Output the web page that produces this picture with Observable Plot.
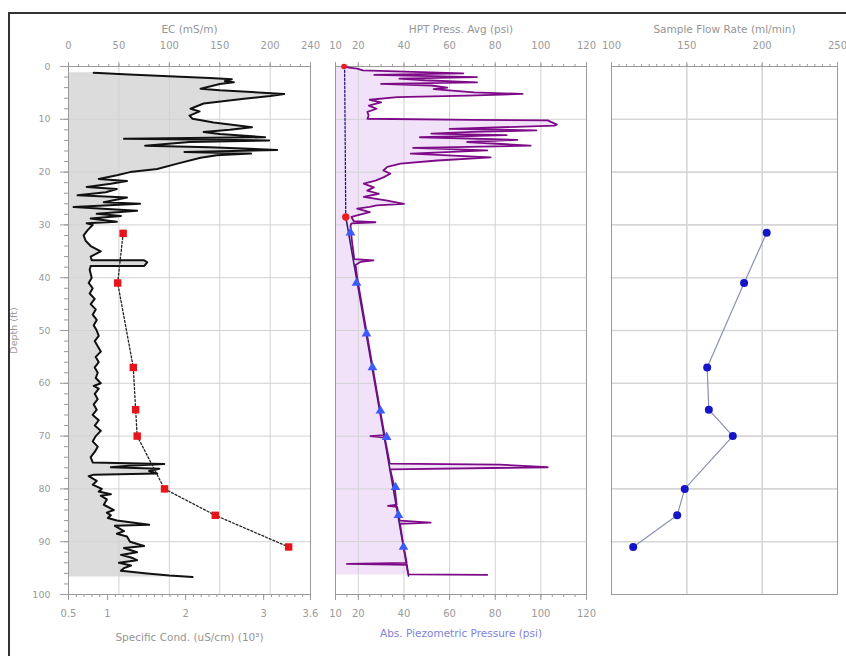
<!DOCTYPE html>
<html><head><meta charset="utf-8">
<script src="https://cdn.jsdelivr.net/npm/d3@7"></script>
<script src="https://cdn.jsdelivr.net/npm/@observablehq/plot@0.6"></script>
<style>
html,body{margin:0;padding:0;background:#fff;overflow:hidden;}
#wrap{position:relative;width:846px;height:656px;overflow:hidden;background:#fff;}
#wrap svg{position:absolute;top:0;}
#frame{position:absolute;left:8px;top:12px;width:900px;height:700px;border:2px solid #333;pointer-events:none;z-index:5;}
</style></head><body>
<div id="wrap"><div id="frame"></div></div>
<script>
// ---- Data: [depth (ft), value] ----
const ecLog = [[1.2,25],[1.3,35],[1.5,60],[1.9,105],[2.2,140],[2.4,162],[2.8,155],[3.0,164],[3.3,150],[4.2,131],[4.5,150],[5.2,214],[5.6,200],[6.1,174],[7.0,134],[8.0,121],[8.5,130],[9.3,120],[9.9,123],[10.6,144],[11.5,182],[12.0,160],[12.4,134],[12.8,150],[13.4,195],[13.7,55],[14.0,199],[14.3,120],[15.0,76],[15.3,140],[15.8,207],[16.2,115],[16.5,181],[16.8,147],[17.3,131],[18.4,108],[19.4,88],[20.0,61],[20.6,48],[21.3,30],[21.7,58],[22.2,42],[22.8,18],[23.2,48],[23.8,37],[24.4,9],[24.8,58],[25.7,35],[26.0,71],[26.6,5],[27.3,68],[27.9,28],[28.3,52],[28.8,22],[29.4,48],[29.7,18],[30,24],[31,19],[32,15],[33,17],[34,22],[35,32],[36,22],[36.7,23],[36.7,75],[37.1,78],[37.8,75],[37.8,22],[38.5,21],[40,23],[41,20],[42,24],[43,21],[44,26],[45,22],[46,27],[47,24],[48,28],[49,25],[50,28],[51,30],[52,26],[53,29],[54,32],[55,27],[56,30],[57,26],[58,29],[59,27],[60,32],[60.5,25],[61,30],[62,26],[63,29],[64,25],[65,28],[66,24],[67,30],[68,26],[69,32],[70,27],[71,24],[72,29],[73,26],[74,22],[75,24],[75.3,95],[75.6,60],[75.9,42],[76.2,90],[76.6,80],[77.1,88],[77.3,25],[77.6,20],[78.5,28],[79.2,24],[80,33],[80.5,30],[81,42],[81.3,32],[82,38],[83,35],[84,45],[84.5,38],[85,42],[85.5,39],[86,48],[86.8,80],[87,46],[88,55],[88.5,48],[89,58],[90,61],[90.8,75],[91.2,55],[92,68],[92.5,52],[93,62],[93.5,68],[94,50],[94.5,62],[95,55],[95.5,52],[96,78],[96.4,100],[96.7,123]];

const scSamples = [[31.6,1.20],[41,1.13],[57,1.33],[65,1.36],[70,1.38],[80,1.73],[85,2.38],[91,3.32]];

const hptLog = [[0,13.7],[0.2,16],[0.4,19.5],[0.75,22],[1.3,66],[1.6,27],[2.0,72],[2.3,38],[2.6,49],[3.0,72],[3.3,30],[3.6,52],[4.0,59],[4.3,53],[4.9,70.7],[5.2,92],[5.5,68],[5.8,37],[6.3,25],[6.8,30],[7.4,24.6],[8.0,28],[8.6,24],[9.3,24.5],[9.9,24],[10.1,70],[10.2,103],[11.0,107],[11.2,106],[11.8,60],[12.1,98],[12.4,70],[12.7,52],[13.0,85],[13.4,47],[13.9,89.7],[14.3,67.7],[15.0,95.5],[15.4,44],[15.9,76.5],[16.5,43],[17.2,78],[17.8,54.6],[18.4,38.5],[19.0,32.7],[19.7,31],[20.3,34],[21.0,31],[21.6,27.5],[22.2,22.4],[22.9,26.8],[23.5,23.9],[24.1,29],[24.7,22.4],[25.4,32.7],[26.0,40],[26.3,28],[26.6,25],[26.9,19.5],[27.6,25],[28.2,19.5],[28.5,17],[29.3,18],[29.5,27.5],[29.7,17],[30.1,16.6],[31.5,16.8],[33,17.2],[35,17.8],[36.5,18.2],[36.7,26.7],[37.0,21],[37.6,18.8],[40,19.5],[45,21.5],[50,23.5],[55,25.5],[60,27.5],[65,29.5],[69.8,31.5],[70,25.3],[70.3,31.6],[75.2,33.8],[75.4,82],[75.9,103],[76.3,34],[80,36],[83,36.8],[83.2,33],[83.4,37],[86,38.2],[86.4,51.7],[86.6,38.3],[90,39.5],[94,41.2],[94.2,15],[94.4,41.3],[96,41.8],[96.2,42.3],[96.3,76.5]];

const waterLevel = [[0,14],[28.5,14.5]];
const hydroLine = [[28.5,14.5],[96.5,42]];
const piezoPoints = [[31.5,16.6],[41,19.2],[50.6,23.6],[57,26.2],[65.2,29.7],[70.2,32.4],[79.7,36.3],[85,37.6],[91,39.8]];
const redMarkers = [[0,13.7,3],[28.5,14.5,5.5]];

const flowRate = [[31.5,203],[41,188],[57,163.5],[65,164.6],[70,180.5],[80,148.6],[85,143.6],[91,114.4]];

const ecTicks = [0,50,100,150,200,240];
const scTicks = [0.5,1,2,3,3.6];
const psiTicks = [10,20,40,60,80,100,120];
const flowTicks = [100,150,200,250];
const depthTicks = [0,10,20,30,40,50,60,70,80,90,100];

// ---- Layout ----
const H = 656, MT = 66, MB = 62;
const rng = (a,b,s) => d3.range(a, b + s/2, s);
const style = {fontFamily: "'DejaVu Sans', sans-serif", fontSize: "10px", color: "#9a9a9a", background: "transparent", overflow: "visible"};
const gridC = "#d2d2d2";
const titleC = "#959595";
const toEC = sc => (sc - 0.5) / 3.1 * 240;
const fromEC = v => v / 240 * 3.1 + 0.5;
const D = d => d[0];

const p1 = Plot.plot({
  width: 320, height: H, marginLeft: 68, marginRight: 10, marginTop: MT, marginBottom: MB,
  style,
  x: {domain: [0, 240], axis: null},
  y: {domain: [0, 100], reverse: true, axis: null},
  marks: [
    Plot.areaX(ecLog, {x1: 0, x2: d => d[1], y: D, fill: "#dcdcdc"}),
    Plot.gridX({ticks: [50,100,150,200], stroke: gridC, strokeOpacity: 1}),
    Plot.gridY({ticks: rng(10,90,10), stroke: gridC, strokeOpacity: 1}),
    Plot.frame({stroke: "#9a9a9a"}),
    Plot.axisX({anchor: "top", ticks: ecTicks, tickSize: 5, tickPadding: 13, label: null}),
    Plot.axisX({anchor: "top", ticks: rng(0,240,10), tickSize: 3, tickFormat: () => "", label: null}),
    Plot.axisX({anchor: "bottom", ticks: scTicks.map(toEC), tickSize: 6, tickPadding: 9, tickFormat: v => String(+fromEC(v).toFixed(1)), label: null}),
    Plot.axisX({anchor: "bottom", ticks: rng(0.5,3.6,0.1).map(toEC), tickSize: 3, tickFormat: () => "", label: null}),
    Plot.axisY({ticks: depthTicks, tickSize: 8, tickPadding: 10, label: "Depth (ft)", labelAnchor: "center", labelOffset: 58, labelArrow: "none", fontSize: 9.5}),
    Plot.axisY({ticks: rng(0,100,2), tickSize: 4, tickFormat: () => "", label: null}),
    Plot.line(ecLog, {x: d => d[1], y: D, stroke: "#111", strokeWidth: 2}),
    Plot.line(scSamples, {x: d => toEC(d[1]), y: D, stroke: "#222", strokeDasharray: "2,2", strokeWidth: 1.3}),
    Plot.dot(scSamples, {x: d => toEC(d[1]), y: D, symbol: "square", fill: "#e8141c", r: 4.2}),
    Plot.text(["EC (mS/m)"], {frameAnchor: "top", dy: -41, fill: titleC, fontSize: 10.5}),
    Plot.text(["Specific Cond. (uS/cm) (10³)"], {frameAnchor: "bottom", dy: 46, fill: titleC, fontSize: 10.5})
  ]
});

const p2 = Plot.plot({
  width: 280, height: H, marginLeft: 15, marginRight: 14, marginTop: MT, marginBottom: MB,
  style,
  x: {domain: [10, 120], axis: null},
  y: {domain: [0, 100], reverse: true, axis: null},
  marks: [
    Plot.areaX(hptLog, {x1: 10, x2: d => d[1], y: D, fill: "#f1e2fa"}),
    Plot.gridX({ticks: [20,40,60,80,100], stroke: gridC, strokeOpacity: 1}),
    Plot.gridY({ticks: rng(10,90,10), stroke: gridC, strokeOpacity: 1}),
    Plot.frame({stroke: "#9a9a9a"}),
    Plot.axisX({anchor: "top", ticks: psiTicks, tickSize: 5, tickPadding: 13, label: null}),
    Plot.axisX({anchor: "top", ticks: rng(10,120,5), tickSize: 3, tickFormat: () => "", label: null}),
    Plot.axisX({anchor: "bottom", ticks: psiTicks, tickSize: 6, tickPadding: 9, label: null}),
    Plot.axisX({anchor: "bottom", ticks: rng(10,120,5), tickSize: 3, tickFormat: () => "", label: null}),
    Plot.line(waterLevel, {x: d => d[1], y: D, stroke: "#1a1a80", strokeDasharray: "2,2", strokeWidth: 1.3}),
    Plot.line(hydroLine, {x: d => d[1], y: D, stroke: "#3a1d70", strokeWidth: 1.6}),
    Plot.line(hptLog, {x: d => d[1], y: D, stroke: "#7d0a86", strokeWidth: 1.8}),
    Plot.dot(piezoPoints, {x: d => d[1], y: D, symbol: "triangle", fill: "#3b5bff", r: 3.6}),
    Plot.dot(redMarkers, {x: d => d[1], y: D, fill: "#ee1c1c", r: d => d[2]}),
    Plot.text(["HPT Press. Avg (psi)"], {frameAnchor: "top", dy: -41, fill: titleC, fontSize: 10.5}),
    Plot.text(["Abs. Piezometric Pressure (psi)"], {frameAnchor: "bottom", dy: 42, fill: "#7f83d6", fontSize: 10.5})
  ]
});

const p3 = Plot.plot({
  width: 246, height: H, marginLeft: 11, marginRight: 9, marginTop: MT, marginBottom: MB,
  style,
  x: {domain: [100, 250], axis: null},
  y: {domain: [0, 100], reverse: true, axis: null},
  marks: [
    Plot.gridX({ticks: [150,200], stroke: "#d6d6d6", strokeOpacity: 1, strokeWidth: 1.6}),
    Plot.gridY({ticks: rng(10,90,10), stroke: "#d6d6d6", strokeOpacity: 1, strokeWidth: 1.6}),
    Plot.frame({stroke: "#9a9a9a"}),
    Plot.axisX({anchor: "top", ticks: flowTicks, tickSize: 5, tickPadding: 13, label: null}),
    Plot.axisX({anchor: "top", ticks: rng(100,250,5), tickSize: 3, tickFormat: () => "", label: null}),
    Plot.line(flowRate, {x: d => d[1], y: D, stroke: "#8a8fb8", strokeWidth: 1.2}),
    Plot.dot(flowRate, {x: d => d[1], y: D, fill: "#1414c8", r: 4}),
    Plot.text(["Sample Flow Rate (ml/min)"], {frameAnchor: "top", dy: -41, fill: titleC, fontSize: 10.5})
  ]
});

const wrap = document.getElementById("wrap");
[[p1,0],[p2,320],[p3,600]].forEach(([p, left]) => {
  p.style.position = "absolute";
  p.style.left = left + "px";
  p.style.top = "0px";
  wrap.appendChild(p);
});
</script>
</body></html>
